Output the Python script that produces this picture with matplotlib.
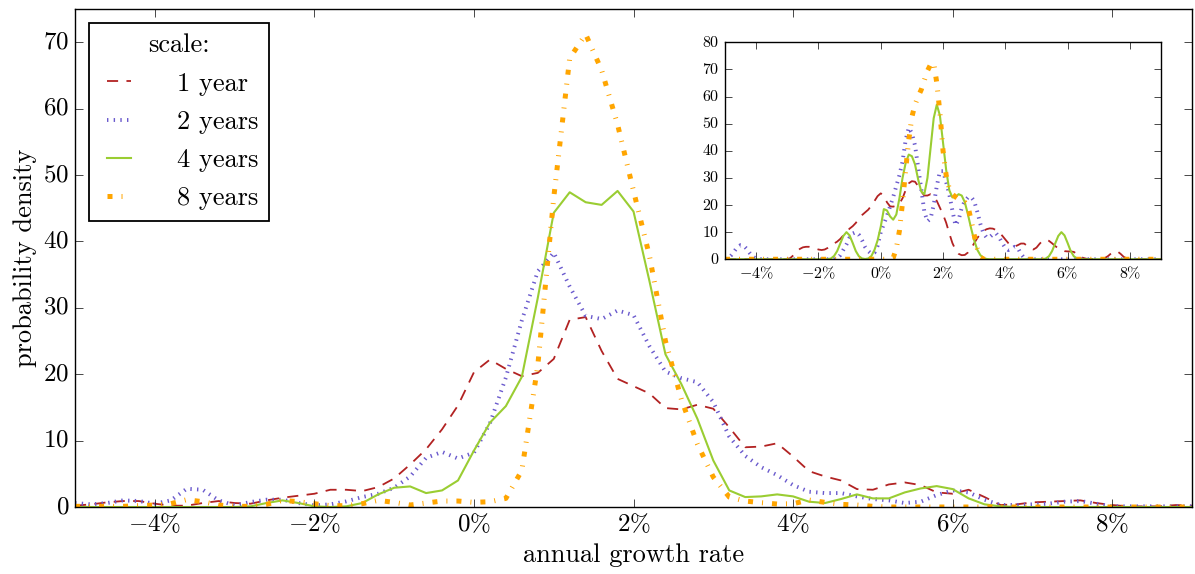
import numpy as np
import matplotlib
matplotlib.use('Agg')
import matplotlib.pyplot as plt
from matplotlib.ticker import FuncFormatter, MultipleLocator

# growth rate grid (%) and smoothed densities, main panel
x_main = np.round(np.arange(-5.0, 9.0001, 0.2), 1)

one_year = [0.2, 0.4, 0.7, 0.9, 0.9, 0.5, 0.2, 0.2, 0.6, 0.9,
            0.6, 0.5, 1.0, 1.4, 1.7, 2.0, 2.6, 2.6, 2.4, 3.0,
            4.3, 6.4, 8.7, 11.7, 15.3, 20.3, 22.2, 20.8, 19.7, 20.2,
            22.3, 28.2, 28.6, 23.5, 19.3, 18.2, 17.1, 14.9, 14.7, 15.4,
            14.8, 12.0, 9.0, 9.1, 9.6, 7.6, 5.4, 4.6, 4.0, 2.7,
            2.6, 3.4, 3.7, 3.3, 2.2, 2.0, 2.6, 1.5, 0.3, 0.4,
            0.7, 0.8, 0.9, 1.0, 0.6, 0.3, 0.1, 0.1, 0.1, 0.3,
            0.2]
two_years = [0.6, 0.4, 0.6, 1.0, 0.9, 0.5, 1.0, 2.75, 2.6, 1.0,
             0.25, 0.75, 1.1, 1.1, 0.6, 0.25, 0.4, 0.85, 1.5, 2.0,
             2.9, 4.6, 7.4, 8.3, 7.3, 8.2, 12.6, 19.5, 28.1, 35.5,
             38.3, 33.2, 28.8, 28.3, 29.6, 28.9, 24.2, 20.4, 19.4, 18.8,
             15.8, 10.6, 7.7, 6.0, 4.8, 3.3, 2.3, 2.1, 2.1, 1.6,
             1.2, 1.0, 0.6, 0.8, 1.8, 2.5, 2.2, 1.1, 0.3, 0.3,
             0.4, 0.5, 0.8, 0.9, 0.5, 0.1, 0.1, 0.1, 0.1, 0.1,
             0.1]
four_years = [0, 0, 0, 0, 0, 0, 0, 0, 0, 0,
              0, 0.1, 0.6, 1.0, 0.6, 0.1, 0.0, 0.1, 0.6, 1.9,
              2.9, 3.1, 2.1, 2.5, 4.0, 8.5, 12.7, 15.2, 19.6, 31.5,
              44.3, 47.4, 45.9, 45.5, 47.6, 44.5, 34.0, 23.0, 18.5, 13.3,
              7.0, 2.5, 1.5, 1.6, 1.9, 1.6, 0.8, 0.6, 1.2, 1.9,
              1.3, 1.3, 2.2, 2.8, 3.15, 2.7, 1.3, 0.4, 0.1, 0,
              0, 0, 0, 0, 0, 0, 0, 0, 0, 0,
              0]
eight_years = [0.1, 0.1, 0.1, 0.1, 0.2, 0.3, 0.5, 1.1, 0.8, 0.3,
               0.1, 0.1, 0.4, 1.0, 0.8, 0.5, 0.2, 0.2, 0.5, 1.0,
               0.7, 0.3, 0.6, 0.9, 0.9, 0.7, 0.8, 1.3, 5.5, 21.3,
               46.6, 67.6, 71.2, 65.8, 57.6, 47.6, 37.8, 25.0, 16.2, 9.5,
               4.5, 1.5, 0.9, 0.65, 0.45, 0.5, 1.05, 0.7, 0.4, 0.3,
               0.1, 0, 0, 0, 0, 0, 0, 0, 0, 0,
               0, 0, 0, 0, 0, 0, 0, 0, 0, 0,
               0]

# inset: narrower kernel, finer grid
x_inset = np.round(np.arange(-5.0, 9.0001, 0.1), 1)

one_year_in = [0, 0, 0, 0, 0, 0, 0, 0, 0, 0,
               0, 0, 0, 0, 0, 0, 0, 0, 0, 0,
               0, 0.5, 1.5, 2.8, 3.8, 4.4, 4.6, 4.6, 4.4, 4.0,
               3.6, 3.4, 3.6, 4.2, 5.0, 5.8, 6.5, 7.5, 8.8, 10.2,
               11.3, 12.2, 13.4, 15.0, 16.3, 17.3, 18.3, 19.8, 21.5, 23.3,
               24.3, 23.5, 21.0, 19.5, 19.4, 19.8, 20.5, 22.5, 25.5, 28.0,
               28.8, 28.6, 27.0, 25.0, 23.5, 23.5, 24.0, 23.5, 21.5, 19.0,
               16.5, 13.5, 9.6, 6.0, 3.5, 2.0, 1.5, 1.6, 2.5, 4.0,
               5.9, 7.8, 9.4, 10.5, 11.1, 11.4, 11.3, 10.8, 10.0, 8.7,
               7.3, 5.9, 4.9, 4.7, 5.2, 5.8, 5.8, 5.0, 4.0, 3.6,
               4.3, 5.7, 6.9, 7.2, 6.8, 5.9, 4.9, 4.0, 3.4, 3.0,
               2.9, 2.9, 2.7, 2.0, 1.1, 0.5, 0.2, 0.1, 0.1, 0.2,
               0.3, 0.3, 0.5, 1.2, 2.2, 2.8, 2.9, 2.0, 0.9, 0.3,
               0.1, 0, 0, 0, 0, 0, 0, 0, 0, 0,
               0]
two_years_in = [0.1, 0.5, 1.5, 3.0, 4.5, 5.2, 5.0, 3.8, 2.2, 0.9,
                0.3, 0.1, 0, 0, 0, 0, 0, 0, 0, 0,
                0, 0, 0, 0, 0, 0, 0, 0, 0, 0,
                0, 0, 0, 0, 0, 0.2, 0.5, 1.5, 3.5, 5.5,
                8.0, 9.5, 10.0, 9.0, 7.0, 4.5, 3.0, 2.0, 2.5, 5.0,
                10.0, 13.0, 16.0, 19.5, 23.0, 27.0, 31.0, 36.0, 44.0, 48.5,
                46.5, 42.0, 34.0, 26.0, 17.5, 14.0, 15.0, 20.0, 27.0, 32.5,
                32.5, 28.5, 24.0, 18.0, 12.5, 14.5, 19.0, 21.5, 22.8, 23.0,
                21.5, 17.5, 13.0, 9.5, 8.0, 8.2, 9.2, 9.6, 8.2, 6.0,
                4.2, 3.4, 3.8, 4.6, 4.2, 2.0, 0.6, 0.1, 0, 0,
                0, 0, 0, 0, 0, 0, 0, 0, 0, 0,
                0, 0, 0, 0, 0, 0, 0, 0, 0, 0,
                0, 0, 0, 0, 0, 0, 0, 0, 0, 0,
                0, 0, 0, 0, 0, 0, 0, 0, 0, 0,
                0]
four_years_in = [0, 0, 0, 0, 0, 0, 0, 0, 0, 0,
                 0, 0, 0, 0, 0, 0, 0, 0, 0, 0,
                 0, 0, 0, 0, 0, 0, 0, 0, 0, 0,
                 0, 0, 0, 0, 0.3, 1.2, 3.0, 5.8, 8.6, 10.0,
                 8.8, 6.0, 3.0, 1.1, 0.3, 0.1, 0.3, 1.2, 3.5, 7.0,
                 12.0, 18.5, 18.0, 15.8, 14.6, 16.5, 22.5, 30.0, 35.5, 38.6,
                 38.0, 35.0, 29.5, 25.0, 24.0, 30.0, 41.0, 52.0, 57.0, 53.0,
                 43.0, 33.0, 25.5, 22.8, 23.0, 24.0, 23.5, 21.0, 16.5, 11.5,
                 7.0, 3.5, 1.5, 0.5, 0.1, 0, 0, 0, 0, 0,
                 0, 0, 0, 0, 0, 0, 0, 0, 0, 0,
                 0, 0, 0, 0.3, 1.1, 3.0, 5.8, 8.6, 10.0, 8.8,
                 6.0, 3.0, 1.1, 0.3, 0.1, 0, 0, 0, 0, 0,
                 0, 0, 0, 0, 0, 0, 0, 0, 0, 0,
                 0, 0, 0, 0, 0, 0, 0, 0, 0, 0,
                 0]
eight_years_in = [0, 0, 0, 0, 0, 0, 0, 0, 0, 0,
                  0, 0, 0, 0, 0, 0, 0, 0, 0, 0,
                  0, 0, 0, 0, 0, 0, 0, 0, 0, 0,
                  0, 0, 0, 0, 0, 0, 0, 0, 0, 0,
                  0, 0, 0, 0, 0, 0, 0, 0, 0, 0,
                  0, 0, 0, 0, 0.5, 4.0, 10.5, 21.0, 33.0, 44.0,
                  52.5, 57.0, 60.0, 62.5, 66.0, 69.5, 71.8, 72.5, 65.0, 54.0,
                  40.0, 31.0, 26.0, 24.0, 23.0, 22.2, 21.5, 21.0, 19.5, 14.5,
                  9.0, 4.0, 0.8, 0, 0, 0, 0, 0, 0, 0,
                  0, 0, 0, 0, 0, 0, 0, 0, 0, 0,
                  0, 0, 0, 0, 0, 0, 0, 0, 0, 0,
                  0, 0, 0, 0, 0, 0, 0, 0, 0, 0,
                  0, 0, 0, 0, 0, 0, 0, 0, 0, 0,
                  0, 0, 0, 0, 0, 0, 0, 0, 0, 0,
                  0]

labels = ['1 year', '2 years', '4 years', '8 years']

plt.style.use('classic')
matplotlib.rcParams.update({
    'font.family': 'serif',
    'font.serif': ['cmr10'],
    'mathtext.fontset': 'cm',
    'axes.unicode_minus': False,
    'axes.formatter.use_mathtext': True,
    'lines.scale_dashes': False,
})

pct = FuncFormatter(lambda v, p: r'$%d\%%$' % int(round(v)))


def draw(ax, x, ys):
    ax.plot(x, ys[0], color='#B22222', lw=1.3, dashes=(8, 6), label=labels[0])
    ax.plot(x, ys[1], color='#6A5ACD', lw=2.8, dashes=(1, 3.8), label=labels[1])
    ax.plot(x, ys[2], color='#9ACD32', lw=1.5, label=labels[2])
    ax.plot(x, ys[3], color='#FFA500', lw=3.6, dashes=(3.6, 6.5, 0.7, 6.5), label=labels[3])


fig = plt.figure(figsize=(11.95, 5.74), dpi=100, facecolor='white')

ax = fig.add_axes([0.0628, 0.1167, 0.9347, 0.8676])
draw(ax, x_main, [one_year, two_years, four_years, eight_years])
ax.set_xlim(-5, 9)
ax.set_ylim(0, 75)
ax.xaxis.set_major_locator(MultipleLocator(2))
ax.xaxis.set_major_formatter(pct)
ax.yaxis.set_major_locator(MultipleLocator(10))
ax.tick_params(axis='both', which='major', labelsize=18, length=6, direction='in')
ax.set_xlabel('annual growth rate', fontsize=19)
ax.set_ylabel('probability density', fontsize=19)

leg = ax.legend(loc='upper left', bbox_to_anchor=(89 / 1195, 1 - 23 / 574),
                bbox_transform=fig.transFigure, borderaxespad=0, title='scale:',
                fontsize=19, title_fontsize=19, fancybox=False, frameon=True,
                handlelength=1.5, handletextpad=1.45, borderpad=0.4, labelspacing=0.55)
leg.get_frame().set_edgecolor('black')
leg.get_frame().set_linewidth(1.3)

axin = fig.add_axes([0.6067, 0.5483, 0.3649, 0.3780])
draw(axin, x_inset, [one_year_in, two_years_in, four_years_in, eight_years_in])
axin.set_xlim(-5, 9)
axin.set_ylim(0, 80)
axin.xaxis.set_major_locator(MultipleLocator(2))
axin.xaxis.set_major_formatter(pct)
axin.yaxis.set_major_locator(MultipleLocator(10))
axin.tick_params(axis='both', which='major', labelsize=11.5, length=5, direction='in')

plt.savefig('out.png', dpi=100, facecolor='white')
